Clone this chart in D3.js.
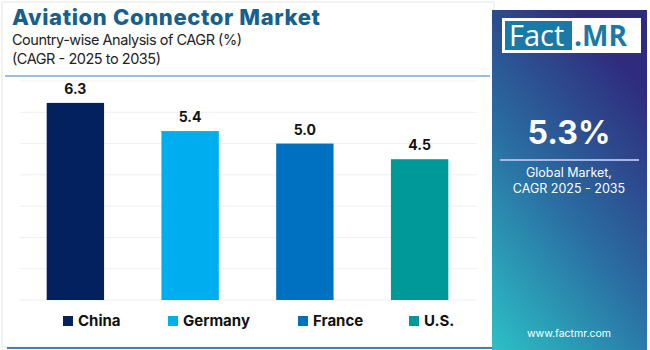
<!DOCTYPE html>
<html>
<head>
<meta charset="utf-8">
<script src="https://cdn.jsdelivr.net/npm/d3@7"></script>
<style>
  body { margin: 0; background: #fff; }
  svg { display: block; font-family: Inter, "Open Sans", sans-serif; }
</style>
</head>
<body>
<svg width="650" height="350"></svg>
<script>
const countries = ['China', 'Germany', 'France', 'U.S.'];
const cagr = [6.3, 5.4, 5.0, 4.5];
const barColors = ['#03215e', '#00aeef', '#0070c0', '#009999'];
const yTicks = [0, 1, 2, 3, 4, 5, 6, 7];

const svg = d3.select('svg');
const width = +svg.attr('width');
const height = +svg.attr('height');

// card outline + bottom accent
svg.append('rect')
    .attr('x', 2).attr('y', 2)
    .attr('width', 492).attr('height', 345)
    .attr('fill', '#fff')
    .attr('stroke', '#e6e6e6');
svg.append('line')
    .attr('x1', 7).attr('x2', 492)
    .attr('y1', 348).attr('y2', 348)
    .attr('stroke', '#3b82b8').attr('stroke-width', 2);

// titles
svg.append('text')
    .attr('x', 12).attr('y', 25)
    .attr('fill', '#165f8f')
    .attr('font-size', 22).attr('font-weight', 800)
    .attr('textLength', 308)
    .text('Aviation Connector Market');
svg.append('text')
    .attr('x', 12).attr('y', 45)
    .attr('fill', '#222').attr('font-size', 14.5)
    .attr('textLength', 230)
    .text('Country-wise Analysis of CAGR (%)');
svg.append('text')
    .attr('x', 12).attr('y', 64)
    .attr('fill', '#222').attr('font-size', 14.5)
    .attr('textLength', 149)
    .text('(CAGR - 2025 to 2035)');
svg.append('line')
    .attr('x1', 5).attr('x2', 490)
    .attr('y1', 76).attr('y2', 76)
    .attr('stroke', '#3b82b8').attr('stroke-width', 1.2);

// chart
const x = d3.scaleBand()
    .domain(countries)
    .range([18, 477])
    .paddingInner(0.5)
    .paddingOuter(0.25);

const y = d3.scaleLinear()
    .domain([0, 7])
    .range([300, 81]);

const g = svg.append('g');

g.selectAll('.grid')
    .data(yTicks)
    .join('line')
    .attr('class', 'grid')
    .attr('x1', 20).attr('x2', 477)
    .attr('y1', d => y(d)).attr('y2', d => y(d))
    .attr('stroke', '#efefef');

g.selectAll('.bar')
    .data(countries)
    .join('rect')
    .attr('class', 'bar')
    .attr('x', d => x(d))
    .attr('y', (d, i) => y(cagr[i]))
    .attr('width', x.bandwidth())
    .attr('height', (d, i) => y(0) - y(cagr[i]))
    .attr('fill', (d, i) => barColors[i]);

g.selectAll('.val')
    .data(countries)
    .join('text')
    .attr('class', 'val')
    .attr('x', d => x(d) + x.bandwidth() / 2)
    .attr('y', (d, i) => y(cagr[i]) - 9)
    .attr('text-anchor', 'middle')
    .attr('font-size', 14).attr('font-weight', 700)
    .attr('fill', '#111')
    .text((d, i) => cagr[i].toFixed(1));

// legend
const legendX = [63, 168, 298, 409];
const leg = svg.selectAll('.leg')
    .data(countries)
    .join('g')
    .attr('class', 'leg')
    .attr('transform', (d, i) => `translate(${legendX[i]},316)`);
leg.append('rect')
    .attr('width', 10).attr('height', 10)
    .attr('fill', (d, i) => barColors[i]);
leg.append('text')
    .attr('x', 15).attr('y', 10)
    .attr('font-size', 15).attr('font-weight', 700)
    .attr('fill', '#111')
    .text(d => d);

// right panel
const defs = svg.append('defs');
const grad = defs.append('linearGradient')
    .attr('id', 'panelGrad')
    .attr('x1', 0).attr('y1', 1).attr('x2', 0.55).attr('y2', 0);
grad.append('stop').attr('offset', 0).attr('stop-color', '#2cc0c6');
grad.append('stop').attr('offset', 0.5).attr('stop-color', '#2a6fa3');
grad.append('stop').attr('offset', 1).attr('stop-color', '#2f2c7d');

svg.append('rect')
    .attr('x', 492).attr('y', 10)
    .attr('width', 155).attr('height', 340)
    .attr('fill', 'url(#panelGrad)');

// logo
svg.append('rect')
    .attr('x', 502).attr('y', 18)
    .attr('width', 139).attr('height', 35)
    .attr('fill', '#fff');
svg.append('rect')
    .attr('x', 505).attr('y', 21)
    .attr('width', 67).attr('height', 29)
    .attr('fill', '#1a7aa6');
svg.append('text')
    .attr('x', 509).attr('y', 46)
    .attr('fill', '#fff').attr('font-size', 29)
    .attr('font-family', '"Open Sans", sans-serif')
    .text('Fact');
svg.append('text')
    .attr('x', 574).attr('y', 46)
    .attr('fill', '#1a7aa6').attr('font-size', 28).attr('font-weight', 700)
    .attr('font-family', '"Open Sans", sans-serif')
    .text('.MR');

svg.append('text')
    .attr('x', 569).attr('y', 144)
    .attr('text-anchor', 'middle')
    .attr('fill', '#fff').attr('font-size', 32).attr('font-weight', 700)
    .text('5.3%');
svg.append('line')
    .attr('x1', 500).attr('x2', 639)
    .attr('y1', 160).attr('y2', 160)
    .attr('stroke', '#a8b6e0').attr('stroke-width', 2);
svg.append('text')
    .attr('x', 569).attr('y', 177)
    .attr('text-anchor', 'middle')
    .attr('fill', '#fff').attr('font-size', 12.5)
    .text('Global Market,');
svg.append('text')
    .attr('x', 569).attr('y', 193)
    .attr('text-anchor', 'middle')
    .attr('fill', '#fff').attr('font-size', 12.5)
    .text('CAGR 2025 - 2035');
svg.append('text')
    .attr('x', 569).attr('y', 337)
    .attr('text-anchor', 'middle')
    .attr('fill', '#fff').attr('font-size', 10.5)
    .text('www.factmr.com');
</script>
</body>
</html>
